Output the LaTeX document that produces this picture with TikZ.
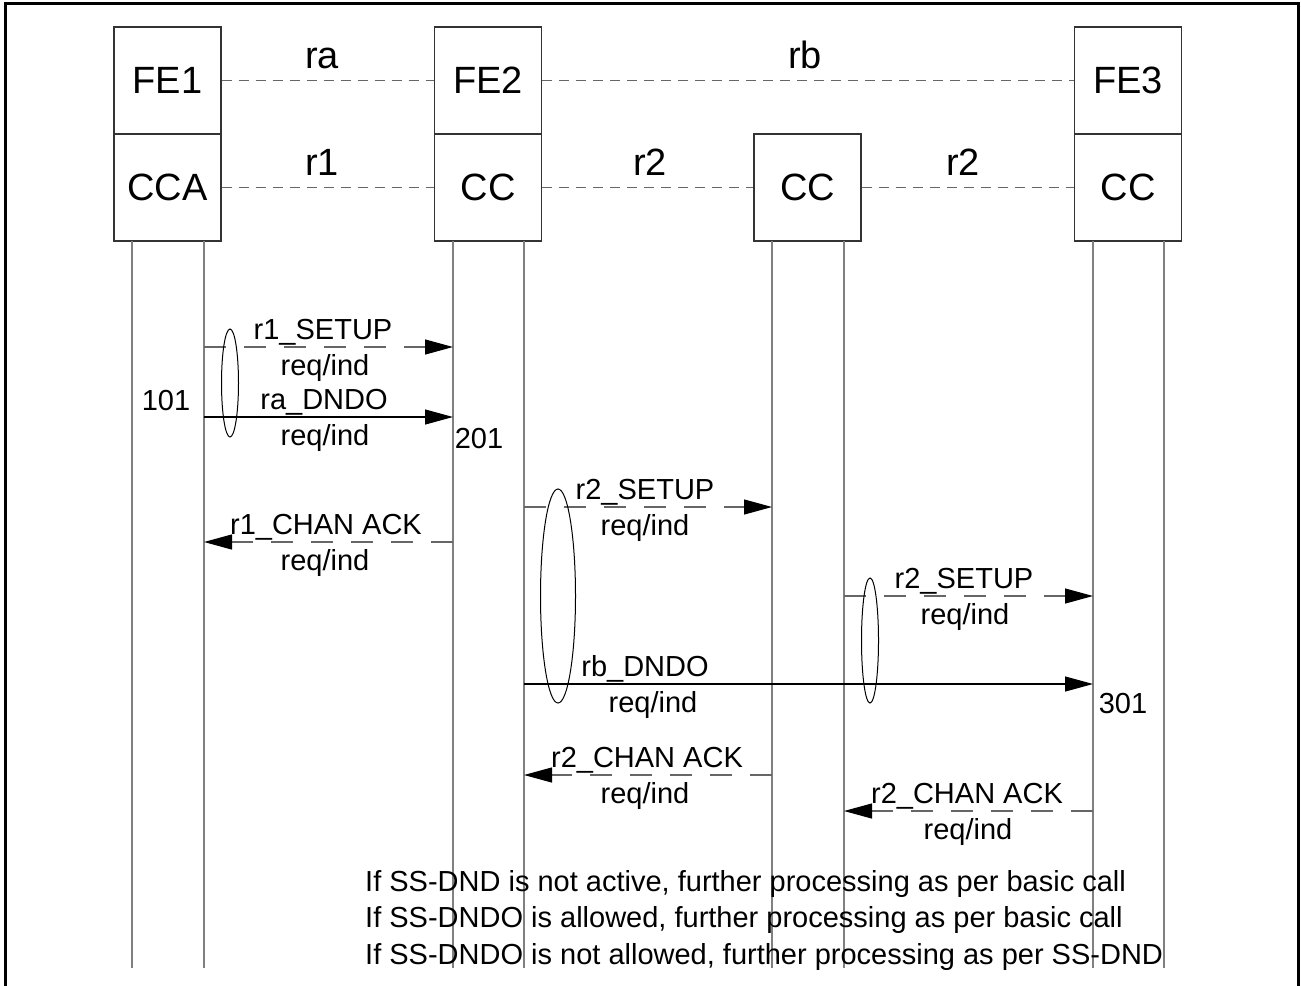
\documentclass[tikz,border=0pt]{standalone}
\usepackage{fontspec}
\setmainfont{Liberation Sans}
\usetikzlibrary{arrows.meta,shapes.geometric}
\begin{document}
\begin{tikzpicture}[x=1bp,y=-1bp,
  box/.style={draw=black!80, line width=1.2bp, minimum width=107bp, minimum height=107bp, inner sep=0pt, font=\fontsize{38bp}{40bp}\selectfont},
  lifeline/.style={draw=black!50, line width=1.5bp},
  iface/.style={draw=black!60, line width=1.2bp, dash pattern=on 10bp off 7bp},
  ilabel/.style={font=\fontsize{38bp}{40bp}\selectfont, anchor=base, inner sep=0pt},
  msgd/.style={draw=black!60, line width=1.2bp, dash pattern=on 22bp off 18bp, -{Triangle[length=28bp,width=15bp,black]}},
  msgs/.style={draw=black, line width=1.2bp, -{Triangle[length=28bp,width=15bp]}},
  mlabel/.style={font=\fontsize{29bp}{30bp}\selectfont, anchor=base, inner sep=0pt},
  note/.style={font=\fontsize{29bp}{30bp}\selectfont, anchor=base west, inner sep=0pt},
  grp/.style={draw=black, line width=1bp, ellipse, inner sep=0pt}
]
\useasboundingbox (0,0) rectangle (1301,985);
% frame
\draw[line width=3bp] (5,995) -- (5,3) -- (1298,3) -- (1298,995);

% boxes
\node[box] (fe1) at (167.5,80.5) {FE1};
\node[box] (cca) at (167.5,187.5) {CCA};
\node[box] (fe2) at (488,80.5) {FE2};
\node[box] (cc2) at (488,187.5) {CC};
\node[box] (cc3) at (807.5,187.5) {CC};
\node[box] (fe3) at (1128,80.5) {FE3};
\node[box] (cc4) at (1128,187.5) {CC};

% interfaces
\draw[iface] (fe1.east) -- (fe2.west);
\draw[iface] (fe2.east) -- (fe3.west);
\draw[iface] (cca.east) -- (cc2.west);
\draw[iface] (cc2.east) -- (cc3.west);
\draw[iface] (cc3.east) -- (cc4.west);
\node[ilabel] (lra) at (322,68) {ra};
\node[ilabel] (lrb) at (805,68) {rb};
\node[ilabel] (lr1) at (322,175) {r1};
\node[ilabel] (lr2a) at (650,175) {r2};
\node[ilabel] (lr2b) at (963,175) {r2};

% lifelines
\foreach \n/\x in {1a/132,1b/204,2a/453,2b/524,3a/772,3b/844,4a/1093,4b/1164}{
  \coordinate (t\n) at (\x,241);
  \coordinate (b\n) at (\x,968);
  \draw[lifeline] (t\n) -- (b\n);
}

% messages
\coordinate (m1s) at (204,347); \coordinate (m1e) at (453,347);
\draw[msgd] (m1s) -- (m1e);
\node[mlabel] (m1l) at (323,339) {r1\_SETUP};
\node[mlabel] (m1r) at (325,375) {req/ind};

\coordinate (m2s) at (204,417); \coordinate (m2e) at (453,417);
\draw[msgs] (m2s) -- (m2e);
\node[mlabel] (m2l) at (324,409) {ra\_DNDO};
\node[mlabel] (m2r) at (325,445) {req/ind};

\coordinate (m3s) at (524,507); \coordinate (m3e) at (772,507);
\draw[msgd] (m3s) -- (m3e);
\node[mlabel] (m3l) at (645,499) {r2\_SETUP};
\node[mlabel] (m3r) at (645,535) {req/ind};

\coordinate (m4s) at (453,542); \coordinate (m4e) at (204,542);
\draw[msgd] (m4s) -- (m4e);
\node[mlabel] (m4l) at (326,534) {r1\_CHAN ACK};
\node[mlabel] (m4r) at (325,570) {req/ind};

\coordinate (m5s) at (844,596); \coordinate (m5e) at (1093,596);
\draw[msgd] (m5s) -- (m5e);
\node[mlabel] (m5l) at (964,588) {r2\_SETUP};
\node[mlabel] (m5r) at (965,624) {req/ind};

\coordinate (m6s) at (524,684); \coordinate (m6e) at (1093,684);
\draw[msgs] (m6s) -- (m6e);
\node[mlabel] (m6l) at (645,676) {rb\_DNDO};
\node[mlabel] (m6r) at (653,712) {req/ind};

\coordinate (m7s) at (772,775); \coordinate (m7e) at (524,775);
\draw[msgd] (m7s) -- (m7e);
\node[mlabel] (m7l) at (647,767) {r2\_CHAN ACK};
\node[mlabel] (m7r) at (645,803) {req/ind};

\coordinate (m8s) at (1093,811); \coordinate (m8e) at (844,811);
\draw[msgd] (m8s) -- (m8e);
\node[mlabel] (m8l) at (967,803) {r2\_CHAN ACK};
\node[mlabel] (m8r) at (968,839) {req/ind};

% numbers
\node[mlabel] (n101) at (166,410) {101};
\node[mlabel] (n201) at (479,448) {201};
\node[mlabel] (n301) at (1123,713) {301};

% grouping ellipses
\node[grp, minimum width=17bp, minimum height=108bp] (g1) at (230,383) {};
\node[grp, minimum width=35bp, minimum height=214bp] (g2) at (558,596) {};
\node[grp, minimum width=17bp, minimum height=125bp] (g3) at (870,640.5) {};

% notes
\node[note] (t1) at (365,891) {If SS-DND is not active, further processing as per basic call};
\node[note] (t2) at (365,927) {If SS-DNDO is allowed, further processing as per basic call};
\node[note] (t3) at (365,964) {If SS-DNDO is not allowed, further processing as per SS-DND};
\end{tikzpicture}
\end{document}
